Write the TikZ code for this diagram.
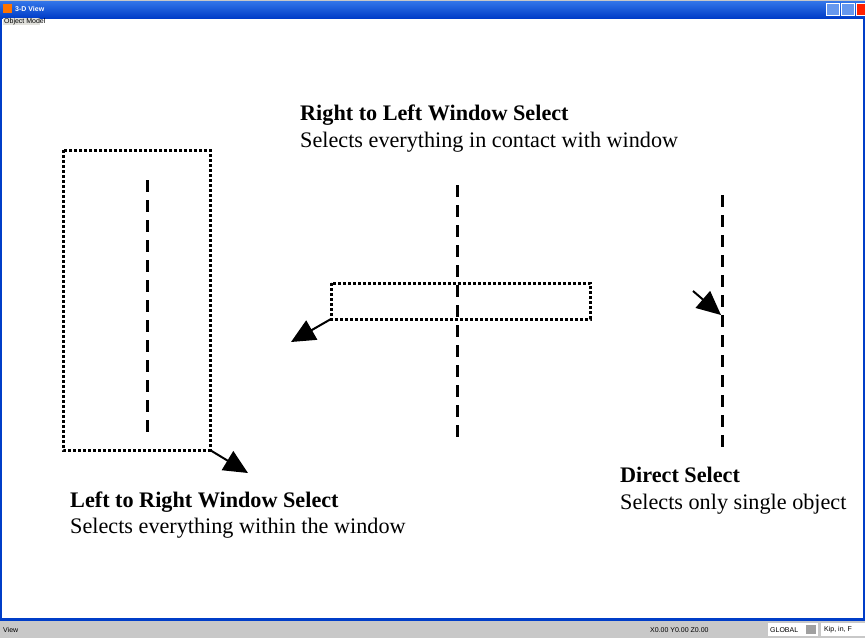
\documentclass[tikz,border=0pt]{standalone}
\usepackage{fontspec}
\setmainfont{Liberation Serif}
\newfontfamily\uifont{Liberation Sans}
\usetikzlibrary{arrows.meta}
\definecolor{xpblue}{RGB}{0,84,227}
\definecolor{xpdark}{RGB}{0,61,200}
\definecolor{statusgrey}{RGB}{200,200,200}
\definecolor{tabgrey}{RGB}{225,225,220}
\tikzset{
  selbox/.style={line width=3pt, dash pattern=on 3pt off 2pt, line cap=butt},
  objline/.style={line width=3pt, dash pattern=on 12pt off 8pt},
  pointer/.style={line width=2pt, -{Triangle[length=24pt,width=22pt]}},
  headtxt/.style={font=\bfseries\fontsize{22.2}{26}\selectfont, anchor=base west, inner sep=0pt},
  bodytxt/.style={font=\fontsize{22.2}{26}\selectfont, anchor=base west, inner sep=0pt},
  tinytxt/.style={font=\uifont\fontsize{7}{8}\selectfont, inner sep=0pt},
}
\begin{document}
\begin{tikzpicture}[x=1pt,y=-1pt]
\useasboundingbox (0,0) rectangle (865,638);
\fill[white] (0,0) rectangle (865,638);
% title bar
\fill[top color=xpblue!80!white, bottom color=xpdark] (0,1) rectangle (865,18);
\fill[statusgrey] (0,0) rectangle (865,1);
\fill[orange!90!red] (3,4) rectangle (12,13);
\node[tinytxt, text=white, font=\uifont\bfseries\fontsize{7}{8}\selectfont, anchor=west] (title) at (15,9) {3-D View};
\fill[xpblue!60!white, draw=white, line width=0.5pt] (826,3) rectangle (839,15);
\fill[xpblue!60!white, draw=white, line width=0.5pt] (841,3) rectangle (854,15);
\fill[red!75!orange, draw=white, line width=0.5pt] (856,3) rectangle (866,15);
% window frame
\fill[xpdark] (0,18) rectangle (2,621);
\fill[xpdark] (863,18) rectangle (865,621);
% tab
\fill[tabgrey] (3,18) rectangle (40,25);
\node[tinytxt, anchor=west] (tab) at (4,21.5) {Object Model};
% status bar
\fill[xpdark] (0,618) rectangle (865,621);
\fill[statusgrey] (0,621) rectangle (865,638);
\node[tinytxt, anchor=west] (view) at (3,630) {View};
\node[tinytxt, anchor=west] (coords) at (650,630) {X0.00 Y0.00 Z0.00};
\fill[white] (768,623) rectangle (818,636);
\node[tinytxt, anchor=west] (glob) at (770,630) {GLOBAL};
\fill[statusgrey!80!black] (806,625) rectangle (816,634);
\fill[white] (821,623) rectangle (865,636);
\node[tinytxt, anchor=west] (units) at (824,630) {Kip, in, F};

% left window select
\coordinate (lb1) at (63,150);
\coordinate (lb2) at (210,450);
\draw[selbox] (lb1) rectangle (lb2);
\coordinate (l1) at (147,180);
\coordinate (l2) at (147,432);
\draw[objline] (l1) -- (l2);
\coordinate (la) at (248,473);
\draw[pointer] (lb2) -- (la);
\node[headtxt] (lhead) at (70,507) {Left to Right Window Select};
\node[bodytxt] (lbody) at (70,533) {Selects everything within the window};

% right to left
\coordinate (m1) at (457,185);
\coordinate (m2) at (457,440);
\draw[objline] (m1) -- (m2);
\coordinate (rb1) at (331,283);
\coordinate (rb2) at (590,319);
\draw[selbox] (rb1) rectangle (rb2);
\coordinate (rbc) at (331,319);
\coordinate (ra) at (291,342);
\draw[pointer] (rbc) -- (ra);
\node[headtxt] (rhead) at (300,120) {Right to Left Window Select};
\node[bodytxt] (rbody) at (300,147) {Selects everything in contact with window};

% direct select
\coordinate (d1) at (722,195);
\coordinate (d2) at (722,447);
\draw[objline] (d1) -- (d2);
\coordinate (ds) at (693,291);
\coordinate (de) at (721,315);
\draw[pointer] (ds) -- (de);
\node[headtxt] (dhead) at (620,482) {Direct Select};
\node[bodytxt] (dbody) at (620,509) {Selects only single object};
\end{tikzpicture}
\end{document}
